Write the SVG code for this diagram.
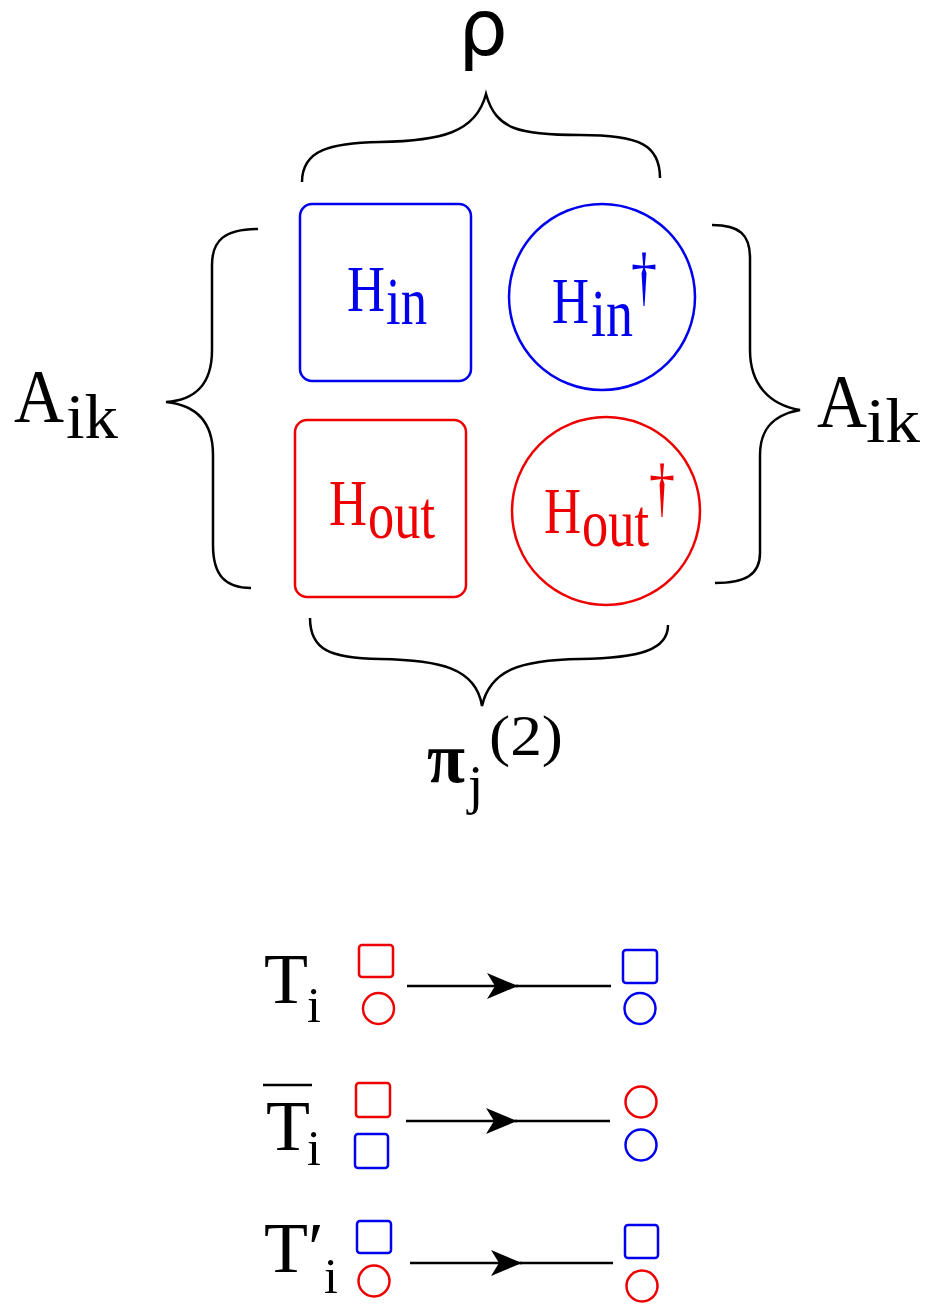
<svg xmlns="http://www.w3.org/2000/svg" width="930" height="1304" viewBox="0 0 930 1304">
<style>
.br{fill:none;stroke:#000;stroke-width:2.5}
.t{font-family:"Liberation Serif","Times New Roman",serif;fill:#000}
.b{fill:#0000ee}
.r{fill:#ee0000}
.bs{fill:none;stroke:#0000ee;stroke-width:2.5}
.rs{fill:none;stroke:#ee0000;stroke-width:2.5}
.ln{stroke:#000;stroke-width:2.5;fill:none}
</style>
<defs>
<marker id="ah" viewBox="-32 -14 33 28" refX="0" refY="0" markerWidth="33" markerHeight="28" markerUnits="userSpaceOnUse" orient="auto">
<path d="M0,0 L-31,-13 L-23,0 L-31,13 Z" fill="#000"/>
</marker>
</defs>
<rect width="930" height="1304" fill="#fff"/>
<g id="braces">
<path class="br" d="M302,182 C302,150 330,143 380,142 C440,141 476,133 486,94 C496,130 520,135 580,135 C640,135 660,145 660,178"/>
<path class="br" d="M258,229 C225,229 212,240 212,265 L212,350 C212,385 195,400 166,402 C195,405 213,420 213,455 L213,545 C213,575 225,588 251,588"/>
<path class="br" d="M712,225 C740,225 750,235 750,258 L750,350 C750,385 770,405 800,410 C772,415 760,430 760,455 L760,553 C760,575 745,583 715,583"/>
<path class="br" d="M310,618 C310,650 330,658 380,659 C440,660 476,668 482,706 C490,670 520,660 580,659 C640,658 668,650 668,625"/>
</g>
<g id="label-rho"><text class="t" x="483" y="55" font-size="78" text-anchor="middle" style="font-family:'DejaVu Sans','Liberation Sans',sans-serif">ρ</text></g>
<g id="label-aik-left"><text class="t" x="14" y="422" font-size="76" textLength="50" lengthAdjust="spacingAndGlyphs">A</text><text class="t" x="66" y="438" font-size="64" textLength="52" lengthAdjust="spacingAndGlyphs">ik</text></g>
<g id="label-aik-right"><text class="t" x="817" y="427" font-size="76" textLength="50" lengthAdjust="spacingAndGlyphs">A</text><text class="t" x="866" y="442" font-size="64" textLength="54" lengthAdjust="spacingAndGlyphs">ik</text></g>
<g id="label-pi"><text class="t" x="427" y="782" font-size="72" font-weight="bold" textLength="38" lengthAdjust="spacingAndGlyphs">π</text><text class="t" x="468" y="803" font-size="55">j</text><text class="t" x="489" y="755" font-size="58" textLength="74" lengthAdjust="spacingAndGlyphs">(2)</text></g>
<g id="node-hin">
<rect class="bs" x="300" y="204" width="171" height="177" rx="12"/>
<text class="t b" x="347" y="311" font-size="66" textLength="38" lengthAdjust="spacingAndGlyphs">H</text>
<text class="t b" x="386" y="324" font-size="68" textLength="41" lengthAdjust="spacingAndGlyphs">in</text>
</g>
<g id="node-hin-dagger">
<circle class="bs" cx="602" cy="297" r="93"/>
<text class="t b" x="552" y="323" font-size="66" textLength="37" lengthAdjust="spacingAndGlyphs">H</text>
<text class="t b" x="591" y="336" font-size="68" textLength="42" lengthAdjust="spacingAndGlyphs">in</text>
<text class="t b" x="631" y="298" font-size="66" textLength="26" lengthAdjust="spacingAndGlyphs">†</text>
</g>
<g id="node-hout">
<rect class="rs" x="295" y="420" width="171" height="177" rx="12"/>
<text class="t r" x="329" y="525" font-size="66" textLength="38" lengthAdjust="spacingAndGlyphs">H</text>
<text class="t r" x="368" y="538" font-size="68" textLength="67" lengthAdjust="spacingAndGlyphs">out</text>
</g>
<g id="node-hout-dagger">
<circle class="rs" cx="606" cy="511" r="94"/>
<text class="t r" x="544" y="533" font-size="66" textLength="37" lengthAdjust="spacingAndGlyphs">H</text>
<text class="t r" x="582" y="546" font-size="68" textLength="67" lengthAdjust="spacingAndGlyphs">out</text>
<text class="t r" x="649" y="509" font-size="66" textLength="26" lengthAdjust="spacingAndGlyphs">†</text>
</g>
<g id="row-T">
<text class="t" x="264" y="1003" font-size="72">T</text>
<text class="t" x="307" y="1022" font-size="50">i</text>
<rect class="rs" x="359" y="945" width="34" height="32" rx="3"/>
<circle class="rs" cx="378.5" cy="1008.5" r="15.5"/>
<rect class="bs" x="623" y="950" width="34" height="33" rx="3"/>
<circle class="bs" cx="640" cy="1008.5" r="15.5"/>
</g>
<g id="row-Tbar">
<line class="ln" x1="263" y1="1085" x2="312" y2="1085"/>
<text class="t" x="266" y="1150" font-size="72">T</text>
<text class="t" x="307" y="1165" font-size="50">i</text>
<rect class="rs" x="356" y="1083" width="34" height="34" rx="3"/>
<rect class="bs" x="355" y="1134" width="33" height="34" rx="3"/>
<circle class="rs" cx="641" cy="1102" r="15.5"/>
<circle class="bs" cx="641" cy="1145" r="15.5"/>
</g>
<g id="row-Tprime">
<text class="t" x="264" y="1272" font-size="72">T′</text>
<text class="t" x="324" y="1293" font-size="50">i</text>
<rect class="bs" x="357" y="1221" width="34" height="32" rx="3"/>
<circle class="rs" cx="374" cy="1281" r="15.5"/>
<rect class="bs" x="625" y="1225" width="33" height="33" rx="3"/>
<circle class="rs" cx="642" cy="1286" r="15.5"/>
</g>
<g id="connectors">
<line class="ln" x1="407" y1="986" x2="518" y2="986" marker-end="url(#ah)"/>
<line class="ln" x1="516" y1="986" x2="611" y2="986"/>
<line class="ln" x1="406" y1="1121" x2="517" y2="1121" marker-end="url(#ah)"/>
<line class="ln" x1="515" y1="1121" x2="610" y2="1121"/>
<line class="ln" x1="410" y1="1263" x2="522" y2="1263" marker-end="url(#ah)"/>
<line class="ln" x1="520" y1="1263" x2="613" y2="1263"/>
</g>
</svg>
